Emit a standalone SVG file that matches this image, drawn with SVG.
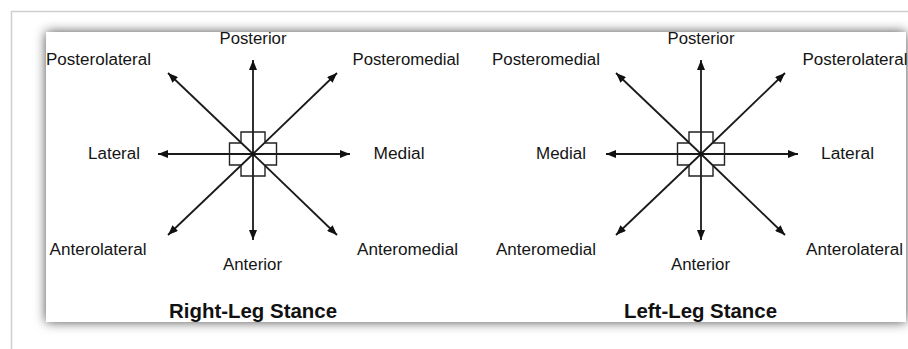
<svg xmlns="http://www.w3.org/2000/svg" width="908" height="349" viewBox="0 0 908 349">
<style>
.lbl{font-family:"Liberation Sans",Arial,sans-serif;font-size:16px;fill:#151515;text-anchor:middle}
.ttl{font-family:"Liberation Sans",Arial,sans-serif;font-size:19.5px;font-weight:bold;fill:#111;text-anchor:middle}
.ax{stroke:#1a1a1a;stroke-width:1.8;fill:none;marker-end:url(#ah)}
.cross{fill:none;stroke:#222;stroke-width:1.4}
</style>
<defs>
<marker id="ah" viewBox="0 0 10 8" refX="10" refY="4" markerWidth="10" markerHeight="8" markerUnits="userSpaceOnUse" orient="auto">
<path d="M0,0 L10,4 L0,8 Z" fill="#111"/>
</marker>
<filter id="sh" x="-10%" y="-20%" width="120%" height="140%">
<feDropShadow dx="0" dy="0" stdDeviation="6" flood-color="#000" flood-opacity="0.7"/>
</filter>
<path id="plus" d="M-12,-22 H12 V-11 H23.5 V11 H12 V22 H-12 V11 H-23.5 V-11 H-12 Z"/>
</defs>
<rect x="0" y="0" width="908" height="349" fill="#fff"/>
<rect x="11.5" y="11.5" width="910" height="350" fill="#fff" stroke="#cfcfcf" stroke-width="1.5"/>
<rect id="frame" x="46" y="32" width="860" height="290" fill="#fff" filter="url(#sh)"/>

<g id="connectors">
<line class="ax" x1="253" y1="154" x2="253" y2="60"/>
<line class="ax" x1="253" y1="154" x2="253" y2="240"/>
<line class="ax" x1="253" y1="154" x2="158" y2="154"/>
<line class="ax" x1="253" y1="154" x2="350" y2="154"/>
<line class="ax" x1="253" y1="154" x2="168" y2="73"/>
<line class="ax" x1="253" y1="154" x2="337" y2="73"/>
<line class="ax" x1="253" y1="154" x2="168" y2="235"/>
<line class="ax" x1="253" y1="154" x2="337" y2="235"/>
<line class="ax" x1="701" y1="154" x2="701" y2="60"/>
<line class="ax" x1="701" y1="154" x2="701" y2="240"/>
<line class="ax" x1="701" y1="154" x2="606" y2="154"/>
<line class="ax" x1="701" y1="154" x2="798" y2="154"/>
<line class="ax" x1="701" y1="154" x2="616" y2="73"/>
<line class="ax" x1="701" y1="154" x2="785" y2="73"/>
<line class="ax" x1="701" y1="154" x2="616" y2="235"/>
<line class="ax" x1="701" y1="154" x2="785" y2="235"/>
</g>

<g id="right-foot">
<use href="#plus" class="cross" x="253" y="154"/>
<circle cx="253" cy="154" r="2" fill="#111"/>
</g>
<g id="left-foot">
<use href="#plus" class="cross" x="701" y="154"/>
<circle cx="701" cy="154" r="2" fill="#111"/>
</g>

<g id="right-labels">
<text class="lbl" x="253" y="44" textLength="67" lengthAdjust="spacingAndGlyphs">Posterior</text>
<text class="lbl" x="98.5" y="65" textLength="105" lengthAdjust="spacingAndGlyphs">Posterolateral</text>
<text class="lbl" x="406" y="65" textLength="107" lengthAdjust="spacingAndGlyphs">Posteromedial</text>
<text class="lbl" x="114" y="159" textLength="52" lengthAdjust="spacingAndGlyphs">Lateral</text>
<text class="lbl" x="399" y="159" textLength="51" lengthAdjust="spacingAndGlyphs">Medial</text>
<text class="lbl" x="98" y="255" textLength="97" lengthAdjust="spacingAndGlyphs">Anterolateral</text>
<text class="lbl" x="407.5" y="255" textLength="101" lengthAdjust="spacingAndGlyphs">Anteromedial</text>
<text class="lbl" x="252.5" y="270" textLength="59" lengthAdjust="spacingAndGlyphs">Anterior</text>
<text class="ttl" x="253" y="318" textLength="168" lengthAdjust="spacingAndGlyphs">Right-Leg Stance</text>
</g>

<g id="left-labels">
<text class="lbl" x="701" y="44" textLength="67" lengthAdjust="spacingAndGlyphs">Posterior</text>
<text class="lbl" x="546" y="65" textLength="108" lengthAdjust="spacingAndGlyphs">Posteromedial</text>
<text class="lbl" x="855" y="65" textLength="105" lengthAdjust="spacingAndGlyphs">Posterolateral</text>
<text class="lbl" x="561" y="159" textLength="50" lengthAdjust="spacingAndGlyphs">Medial</text>
<text class="lbl" x="847.5" y="159" textLength="53" lengthAdjust="spacingAndGlyphs">Lateral</text>
<text class="lbl" x="546" y="255" textLength="100" lengthAdjust="spacingAndGlyphs">Anteromedial</text>
<text class="lbl" x="854.5" y="255" textLength="97" lengthAdjust="spacingAndGlyphs">Anterolateral</text>
<text class="lbl" x="700.5" y="270" textLength="59" lengthAdjust="spacingAndGlyphs">Anterior</text>
<text class="ttl" x="700.5" y="318" textLength="153" lengthAdjust="spacingAndGlyphs">Left-Leg Stance</text>
</g>
</svg>
